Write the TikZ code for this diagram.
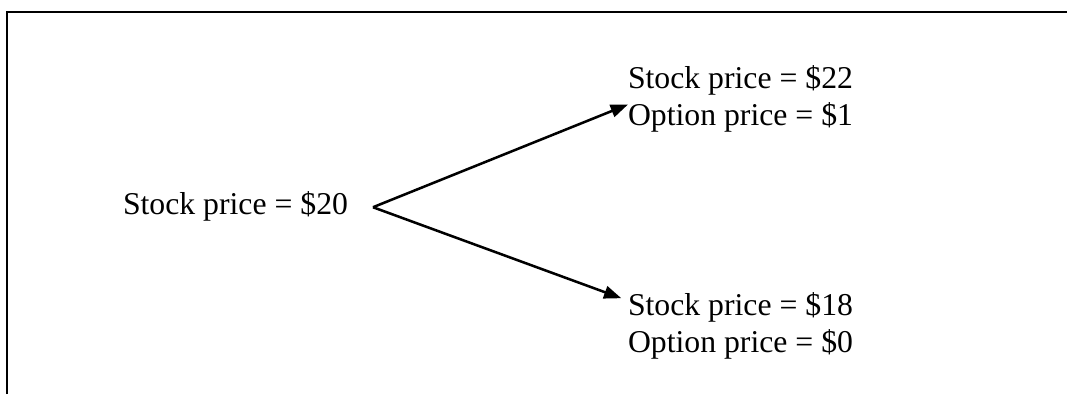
\documentclass[tikz,border=0pt]{standalone}
\usepackage{fontspec}
\setmainfont{Liberation Serif}
\usetikzlibrary{arrows.meta}
\begin{document}
\begin{tikzpicture}[x=0.75pt,y=-0.75pt,
  lbl/.style={inner sep=0pt, outer sep=0pt, align=left, font=\fontsize{23.8}{27.6}\selectfont},
  arr/.style={line width=1.9pt, -{Triangle[length=13pt,width=9.5pt]}},
  frame/.style={line width=2pt}]
\useasboundingbox (0,0) rectangle (1067,394);
\draw[frame] (7,394) -- (7,12) -- (1067,12);
\node[lbl, anchor=base west] (root) at (123,214) {Stock price = \$20};
\node[lbl, anchor=base west] (up) at (628,125) {Stock price = \$22\\Option price = \$1};
\node[lbl, anchor=base west] (down) at (628,352) {Stock price = \$18\\Option price = \$0};
\coordinate (apex) at ([xshift=18.75pt,yshift=-1pt]root.east);
\draw[arr] (apex) -- ([yshift=-4.5pt]up.west);
\draw[arr] (apex) -- ([xshift=-5pt,yshift=-4.5pt]down.north west);
\end{tikzpicture}
\end{document}
